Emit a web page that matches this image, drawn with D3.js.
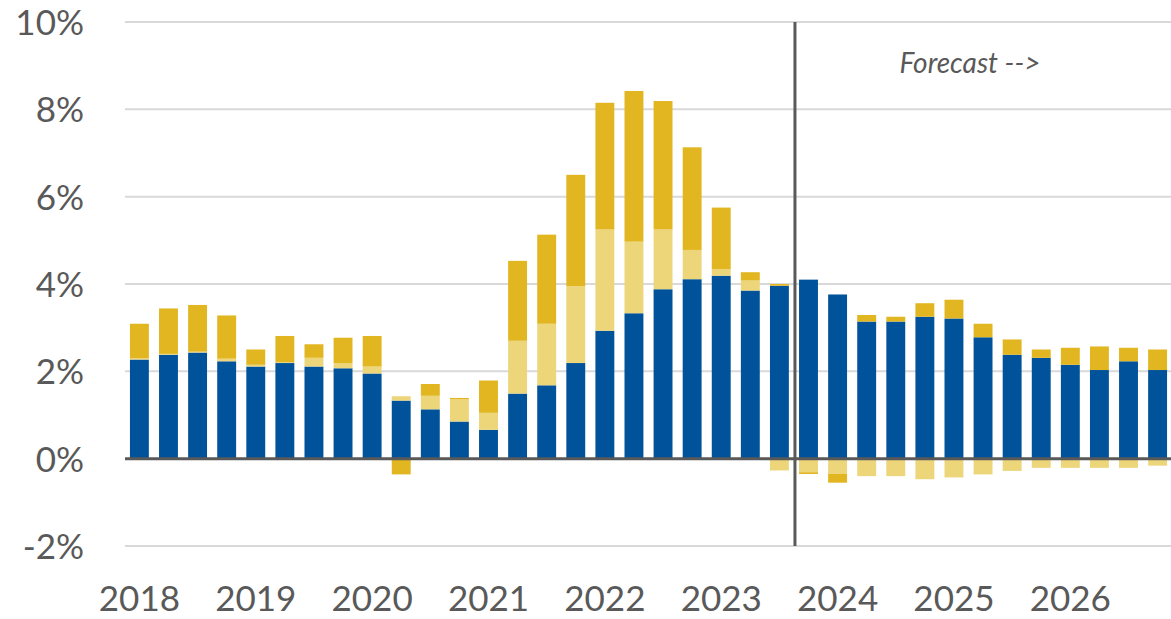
<!DOCTYPE html>
<html>
<head>
<meta charset="utf-8">
<script src="https://cdn.jsdelivr.net/npm/d3@7"></script>
<style>
  body { margin: 0; background: #fff; }
  svg { display: block; font-family: Lato, "Open Sans", sans-serif; }
</style>
</head>
<body>
<div id="chart"></div>
<script>
// quarterly periods 2018Q1 .. 2026Q4
const years = [2018, 2019, 2020, 2021, 2022, 2023, 2024, 2025, 2026];
const quarters = years.flatMap(y => [1, 2, 3, 4].map(q => y + "Q" + q));

// contributions, percentage points
const core = [2.27, 2.38, 2.43, 2.23, 2.11, 2.19, 2.11, 2.07, 1.95, 1.33, 1.13, 0.85,
  0.66, 1.49, 1.68, 2.19, 2.93, 3.33, 3.88, 4.11, 4.19, 3.85, 3.96, 4.10,
  3.76, 3.14, 3.14, 3.25, 3.21, 2.78, 2.38, 2.31, 2.15, 2.03, 2.23, 2.03];
const food = [0.03, 0.02, 0.02, 0.06, 0.04, 0.02, 0.20, 0.12, 0.16, 0.10, 0.31, 0.51,
  0.39, 1.21, 1.41, 1.76, 2.32, 1.64, 1.37, 0.67, 0.15, 0.23, -0.27, -0.31,
  -0.35, -0.40, -0.40, -0.47, -0.43, -0.36, -0.28, -0.21, -0.21, -0.21, -0.21, -0.16];
const energy = [0.79, 1.04, 1.07, 0.99, 0.35, 0.60, 0.31, 0.58, 0.70, -0.36, 0.27, 0.03,
  0.74, 1.83, 2.04, 2.55, 2.90, 3.45, 2.94, 2.35, 1.41, 0.19, 0.04, -0.04,
  -0.20, 0.15, 0.11, 0.31, 0.43, 0.31, 0.35, 0.19, 0.39, 0.54, 0.31, 0.47];

const yTicks = [-2, 0, 2, 4, 6, 8, 10];
const forecastStart = "2023Q4";
const forecastLabel = "Forecast -->";

const keys = ["core", "food", "energy"];
const colors = { core: "#00539B", food: "#EDD57A", energy: "#E1B620" };

const W = 1171, H = 619;
const margin = { top: 22, right: 0, bottom: 73, left: 125 };

const svg = d3.select("#chart").append("svg")
  .attr("width", W)
  .attr("height", H);

const x = d3.scaleBand()
  .domain(quarters)
  .range([margin.left, W + 1])
  .paddingInner(0.35)
  .paddingOuter(0.17);

const y = d3.scaleLinear()
  .domain([-2, 10])
  .range([H - margin.bottom, margin.top]);

// gridlines
svg.append("g")
  .selectAll("line")
  .data(yTicks.filter(d => d !== 0))
  .enter().append("line")
  .attr("x1", margin.left)
  .attr("x2", W)
  .attr("y1", d => y(d))
  .attr("y2", d => y(d))
  .attr("stroke", "#D9D9D9")
  .attr("stroke-width", 2);

// y labels
svg.append("g")
  .selectAll("text")
  .data(yTicks)
  .enter().append("text")
  .attr("x", 84)
  .attr("y", d => y(d))
  .attr("dy", "0.37em")
  .attr("text-anchor", "end")
  .attr("font-size", 35)
  .attr("fill", "#595959")
  .text(d => d + "%");

// stacked bars
const table = quarters.map((q, i) => ({ q: q, core: core[i], food: food[i], energy: energy[i] }));
const series = d3.stack()
  .keys(keys)
  .offset(d3.stackOffsetDiverging)(table);

svg.append("g")
  .selectAll("g")
  .data(series)
  .enter().append("g")
  .attr("fill", d => colors[d.key])
  .selectAll("rect")
  .data(d => d)
  .enter().append("rect")
  .attr("x", d => x(d.data.q))
  .attr("width", x.bandwidth())
  .attr("y", d => y(Math.max(d[0], d[1])))
  .attr("height", d => Math.abs(y(d[0]) - y(d[1])));

// zero line
svg.append("line")
  .attr("x1", margin.left)
  .attr("x2", W)
  .attr("y1", y(0))
  .attr("y2", y(0))
  .attr("stroke", "#595959")
  .attr("stroke-width", 3);

// forecast divider
const gap = x.step() - x.bandwidth();
const fx = x(forecastStart) - gap / 2 + 1;
svg.append("line")
  .attr("x1", fx)
  .attr("x2", fx)
  .attr("y1", y(10))
  .attr("y2", y(-2))
  .attr("stroke", "#595959")
  .attr("stroke-width", 3);

svg.append("text")
  .attr("x", 970)
  .attr("y", 73)
  .attr("text-anchor", "middle")
  .attr("font-size", 28)
  .attr("font-style", "italic")
  .attr("fill", "#595959")
  .text(forecastLabel);

// x labels, one per year at Q1
svg.append("g")
  .selectAll("text")
  .data(years)
  .enter().append("text")
  .attr("x", d => x(d + "Q1") + x.bandwidth() / 2)
  .attr("y", 611)
  .attr("text-anchor", "middle")
  .attr("font-size", 35)
  .attr("fill", "#595959")
  .text(d => d);
</script>
</body>
</html>
